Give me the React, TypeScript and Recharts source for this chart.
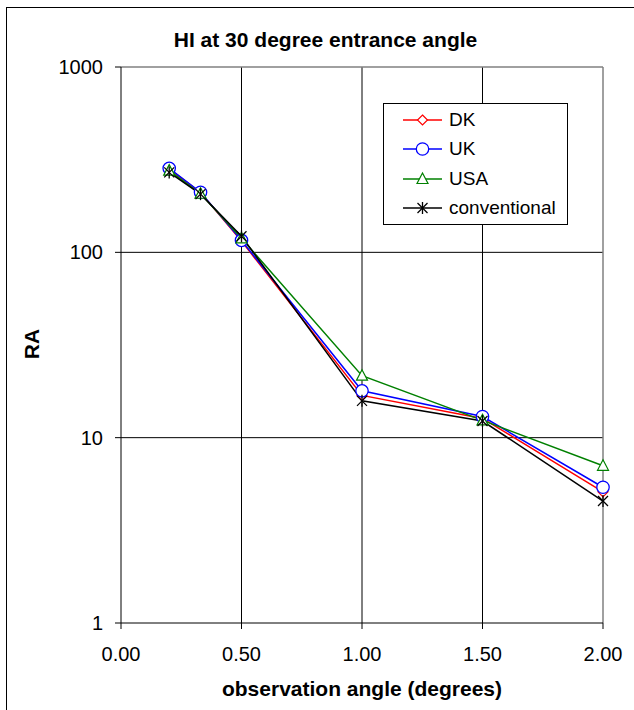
import { LineChart, Line, XAxis, YAxis, CartesianGrid } from "recharts"

const angles = [0.2, 0.33, 0.5, 1.0, 1.5, 2.0]
const dk = [282, 210, 115, 16.9, 12.7, 5.1]
const uk = [284, 211, 116, 17.9, 13.0, 5.4]
const usa = [276, 207, 119, 21.6, 12.4, 7.05]
const conventional = [270, 206, 122, 15.8, 12.3, 4.55]

const xTicks = [0, 0.5, 1, 1.5, 2]
const yTicks = [1, 10, 100, 1000]

const data = angles.map((x, i) => ({
  x,
  dk: dk[i],
  uk: uk[i],
  usa: usa[i],
  conventional: conventional[i],
}))

const FONT = '"Liberation Sans", Arial, sans-serif'

type MarkerProps = { cx?: number; cy?: number }

function Diamond({ cx = 0, cy = 0 }: MarkerProps) {
  return (
    <polygon
      points={`${cx},${cy - 5} ${cx + 5},${cy} ${cx},${cy + 5} ${cx - 5},${cy}`}
      fill="#fff"
      stroke="#ff0000"
      strokeWidth={1.2}
    />
  )
}

function Ring({ cx = 0, cy = 0 }: MarkerProps) {
  return <circle cx={cx} cy={cy} r={6.2} fill="#fff" stroke="#0000ff" strokeWidth={1.3} />
}

function Tri({ cx = 0, cy = 0 }: MarkerProps) {
  return (
    <polygon
      points={`${cx},${cy - 6} ${cx + 5.5},${cy + 4.5} ${cx - 5.5},${cy + 4.5}`}
      fill="#fff"
      stroke="#008000"
      strokeWidth={1.2}
    />
  )
}

function Star({ cx = 0, cy = 0 }: MarkerProps) {
  return (
    <g stroke="#000" strokeWidth={1.3}>
      <line x1={cx - 5} y1={cy - 5} x2={cx + 5} y2={cy + 5} />
      <line x1={cx - 5} y1={cy + 5} x2={cx + 5} y2={cy - 5} />
      <line x1={cx} y1={cy - 6} x2={cx} y2={cy + 6} />
    </g>
  )
}

const series = [
  { key: "dk", name: "DK", color: "#ff0000", Marker: Diamond },
  { key: "uk", name: "UK", color: "#0000ff", Marker: Ring },
  { key: "usa", name: "USA", color: "#008000", Marker: Tri },
  { key: "conventional", name: "conventional", color: "#000000", Marker: Star },
]

function LegendBox() {
  return (
    <div
      style={{
        position: "absolute",
        left: 383,
        top: 103,
        width: 183,
        height: 120,
        border: "1px solid #000",
        background: "#fff",
        fontFamily: FONT,
        fontSize: 19,
      }}
    >
      {series.map((s, i) => (
        <div
          key={s.key}
          style={{
            position: "absolute",
            left: 0,
            top: 2 + i * 29.3,
            height: 28,
            display: "flex",
            alignItems: "center",
          }}
        >
          <svg width={64} height={28} style={{ display: "block" }}>
            <line x1={19} y1={14} x2={58} y2={14} stroke={s.color} strokeWidth={1.5} />
            <s.Marker cx={38.5} cy={14} />
          </svg>
          <span style={{ lineHeight: "28px", marginLeft: 1 }}>{s.name}</span>
        </div>
      ))}
    </div>
  )
}

export default function App() {
  return (
    <div
      style={{
        position: "absolute",
        left: 0,
        top: 0,
        width: 634,
        height: 710,
        overflow: "hidden",
        background: "#fff",
      }}
    >
      <div
        style={{
          position: "absolute",
          left: 6,
          top: 7,
          width: 700,
          height: 800,
          borderTop: "1px solid #000",
          borderLeft: "1px solid #000",
        }}
      />
      <LineChart
        width={634}
        height={710}
        data={data}
        margin={{ top: 67, right: 31, bottom: 27, left: 0 }}
        style={{ position: "absolute", left: 0, top: 0 }}
      >
        <CartesianGrid stroke="#000" verticalValues={[0.5, 1, 1.5]} horizontalValues={[10, 100]} />
        <CartesianGrid stroke="#808080" strokeWidth={1.5} verticalValues={[2]} horizontalValues={[1000]} />
        <XAxis
          type="number"
          dataKey="x"
          domain={[0, 2]}
          ticks={xTicks}
          tickFormatter={(v: number) => v.toFixed(2)}
          height={60}
          tickSize={6}
          tickMargin={18}
          axisLine={{ stroke: "#000" }}
          tickLine={{ stroke: "#000" }}
          tick={{ fill: "#000", fontSize: 20, fontFamily: FONT }}
          interval={0}
        />
        <YAxis
          type="number"
          scale="log"
          domain={[1, 1000]}
          ticks={yTicks}
          width={121}
          tickSize={6}
          tickMargin={12}
          axisLine={{ stroke: "#000" }}
          tickLine={{ stroke: "#000" }}
          tick={{ fill: "#000", fontSize: 20, fontFamily: FONT }}
          interval={0}
          allowDataOverflow
        />
        {series.map((s) => (
          <Line
            key={s.key}
            dataKey={s.key}
            name={s.name}
            stroke={s.color}
            strokeWidth={1.5}
            isAnimationActive={false}
            dot={(p: any) => <s.Marker key={`${s.key}-${p.index}`} cx={p.cx} cy={p.cy} />}
            activeDot={false}
          />
        ))}
      </LineChart>
      <svg
        width={634}
        height={710}
        style={{ position: "absolute", left: 0, top: 0, pointerEvents: "none" }}
        fontFamily={FONT}
        fontWeight="bold"
        fontSize={21}
      >
        <text x={325.5} y={46.5} textAnchor="middle">
          HI at 30 degree entrance angle
        </text>
        <text x={362} y={696} textAnchor="middle">
          observation angle (degrees)
        </text>
        <text x={39} y={344} textAnchor="middle" transform="rotate(-90 39 344)">
          RA
        </text>
      </svg>
      <LegendBox />
    </div>
  )
}
